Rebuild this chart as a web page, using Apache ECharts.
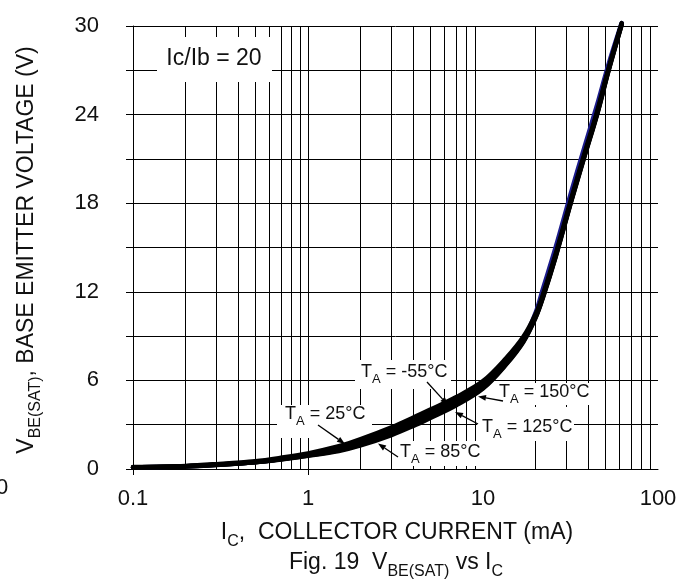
<!DOCTYPE html>
<html>
<head>
<meta charset="utf-8">
<script src="https://cdn.jsdelivr.net/npm/echarts@6/dist/echarts.min.js"></script>
<style>
  html, body { margin: 0; padding: 0; background: #fff; }
  #chart { width: 694px; height: 583px; }
</style>
</head>
<body>
<div id="chart"></div>
<script>
// Collector current (mA), shared by all temperature curves
const currentMA = [0.1, 0.2, 0.3, 0.5, 0.7, 1, 1.5, 2, 3, 4, 5, 7, 10, 13.5, 17, 20, 22, 26, 32, 38, 45, 52, 62];

// V_BE(SAT) (V) per ambient temperature
const vbeMinus55 = [0.11, 0.18, 0.28, 0.47, 0.67, 0.98, 1.40, 1.84, 2.60, 3.24, 3.78, 4.63, 5.72, 7.29, 8.75, 10.60, 12.20, 15.00, 18.80, 21.80, 24.70, 27.35, 30.20];
const vbe25 = [0.14, 0.21, 0.33, 0.53, 0.76, 1.06, 1.54, 2.02, 2.82, 3.48, 4.02, 4.86, 5.95, 7.48, 8.95, 10.50, 11.80, 14.55, 18.35, 21.35, 24.25, 27.05, 30.20];
const vbe85 = [0.10, 0.17, 0.27, 0.45, 0.64, 0.89, 1.22, 1.60, 2.30, 2.92, 3.46, 4.30, 5.45, 7.05, 8.60, 10.25, 11.60, 14.35, 18.15, 21.15, 24.05, 26.90, 30.10];
const vbe125 = [0.11, 0.18, 0.28, 0.46, 0.66, 0.91, 1.27, 1.66, 2.38, 3.00, 3.55, 4.40, 5.50, 7.10, 8.65, 10.30, 11.65, 14.40, 18.20, 21.20, 24.10, 26.95, 30.10];
const vbe150 = [0.11, 0.18, 0.28, 0.47, 0.67, 0.98, 1.40, 1.84, 2.60, 3.24, 3.78, 4.63, 5.72, 7.29, 8.70, 10.35, 11.70, 14.45, 18.25, 21.25, 24.15, 27.00, 30.15];

// Axis tick labels
const xTickLabels = ['0.1', '1', '10', '100'];
const yTickLabels = ['0', '6', '12', '18', '24', '30'];
const xDecades = [0.1, 1, 10];

const FONT = "'Liberation Sans', Arial, sans-serif";

// log-paper minor grid: 2..9 within each decade
const minorGrid = [];
xDecades.forEach(d => { for (let k = 2; k <= 9; k++) minorGrid.push({ xAxis: +(d * k).toPrecision(3) }); });

const pairs = vs => currentMA.map((c, i) => [c, vs[i]]);

function curve(name, vs, color) {
  return {
    name, type: 'line', data: pairs(vs), showSymbol: false, smooth: 0.35,
    clip: false, z: 3, silent: true,
    lineStyle: { color, width: 4.5, cap: 'round', join: 'round' }
  };
}

function arrow(x1, y1, x2, y2) {
  const dx = x2 - x1, dy = y2 - y1, L = Math.hypot(dx, dy), ux = dx / L, uy = dy / L;
  const hl = 8, hw = 3;
  const bx = x2 - ux * hl, by = y2 - uy * hl;
  return [
    { type: 'line', z: 20, shape: { x1, y1, x2: bx, y2: by }, style: { stroke: '#000', lineWidth: 1.3 } },
    { type: 'polygon', z: 20, shape: { points: [[x2, y2], [bx - uy * hw, by + ux * hw], [bx + uy * hw, by - ux * hw]] }, style: { fill: '#000' } }
  ];
}

function box(x0, y0, x1, y1) {
  return { type: 'rect', z: 1, shape: { x: x0, y: y0, width: x1 - x0, height: y1 - y0 }, style: { fill: '#fff' } };
}

function richText(text, x, y, fs, sfs, align, extra) {
  return Object.assign({
    type: 'text', z: 20, x, y,
    style: {
      text, align: align || 'left', verticalAlign: 'middle',
      rich: {
        m: { fontSize: fs, fontFamily: FONT, lineHeight: fs + 10, fill: '#111' },
        s: { fontSize: sfs, fontFamily: FONT, lineHeight: sfs, verticalAlign: 'bottom', fill: '#111' }
      }
    }
  }, extra || {});
}

const graphics = [
  box(157, 37, 272, 82),
  box(277, 405, 372, 438),
  box(355, 360, 451, 389),
  box(493, 383, 593, 405),
  box(477, 407, 574, 441),
  box(394, 441, 482, 466),
  { type: 'text', z: 20, x: 214, y: 59, style: { text: 'Ic/Ib = 20', font: '23px ' + FONT, fill: '#111', align: 'center', verticalAlign: 'middle' } },
  richText('{m|T}{s|A}{m| = 25°C}', 285, 414, 18, 13),
  richText('{m|T}{s|A}{m| = -55°C}', 361, 372, 18, 13),
  richText('{m|T}{s|A}{m| = 150°C}', 499, 392, 18, 13),
  richText('{m|T}{s|A}{m| = 125°C}', 482, 427, 18, 13),
  richText('{m|T}{s|A}{m| = 85°C}', 400, 452, 18, 13),
  ...arrow(318, 425, 345, 444),
  ...arrow(427, 382, 448, 405),
  ...arrow(398, 457, 378, 443.5),
  ...arrow(478, 424, 455, 412),
  ...arrow(503, 401, 478, 396.5),
  // axis titles and caption
  richText('{m|I}{s|C}{m|,  COLLECTOR CURRENT (mA)}', 397, 533, 23, 16, 'center'),
  richText('{m|Fig. 19  V}{s|BE(SAT)}{m| vs I}{s|C}', 396, 563, 23, 16, 'center'),
  richText('{m|V}{s|BE(SAT)}{m|, BASE EMITTER VOLTAGE (V)}', 27, 250, 23, 16, 'center', { rotation: Math.PI / 2 }),
  { type: 'text', z: 20, x: -4, y: 488, style: { text: '0', font: '22px ' + FONT, fill: '#111', align: 'left', verticalAlign: 'middle' } }
];

const chart = echarts.init(document.getElementById('chart'), null, { renderer: 'canvas' });
chart.setOption({
  animation: false,
  backgroundColor: '#fff',
  grid: { left: 133, right: 36, top: 26, bottom: 114, containLabel: false },
  xAxis: {
    type: 'log', logBase: 10, min: 0.1, max: 100,
    axisLine: { show: true, lineStyle: { color: '#000', width: 1 } },
    axisTick: { show: true, inside: false, length: 6, customValues: [0.1, 1], lineStyle: { color: '#000', width: 1 } },
    axisLabel: {
      show: true, margin: 19, color: '#111', fontSize: 22, fontFamily: FONT,
      formatter: (v, i) => xTickLabels[i] !== undefined ? xTickLabels[i] : ''
    },
    splitLine: { show: true, lineStyle: { color: '#000', width: 1 } },
    minorTick: { show: false }
  },
  yAxis: {
    type: 'value', min: 0, max: 30, interval: 3,
    axisLine: { show: true, lineStyle: { color: '#000', width: 1 } },
    axisTick: { show: true, inside: false, length: 7, lineStyle: { color: '#000', width: 1 } },
    axisLabel: {
      show: true, margin: 34, color: '#111', fontSize: 22, fontFamily: FONT,
      formatter: v => yTickLabels.includes(String(v)) ? String(v) : ''
    },
    splitLine: { show: true, lineStyle: { color: '#000', width: 1 } }
  },
  series: [
    {
      type: 'line', data: [], silent: true, z: 0,
      markLine: {
        z: 0, silent: true, symbol: ['none', 'none'], label: { show: false },
        lineStyle: { color: '#000', width: 1, type: 'solid' }, emphasis: { disabled: true },
        data: minorGrid
      }
    },
    curve('-55°C', vbeMinus55, '#1c1c8c'),
    curve('25°C', vbe25, '#000'),
    curve('85°C', vbe85, '#000'),
    curve('125°C', vbe125, '#000'),
    curve('150°C', vbe150, '#000')
  ],
  graphic: graphics
});
</script>
</body>
</html>
